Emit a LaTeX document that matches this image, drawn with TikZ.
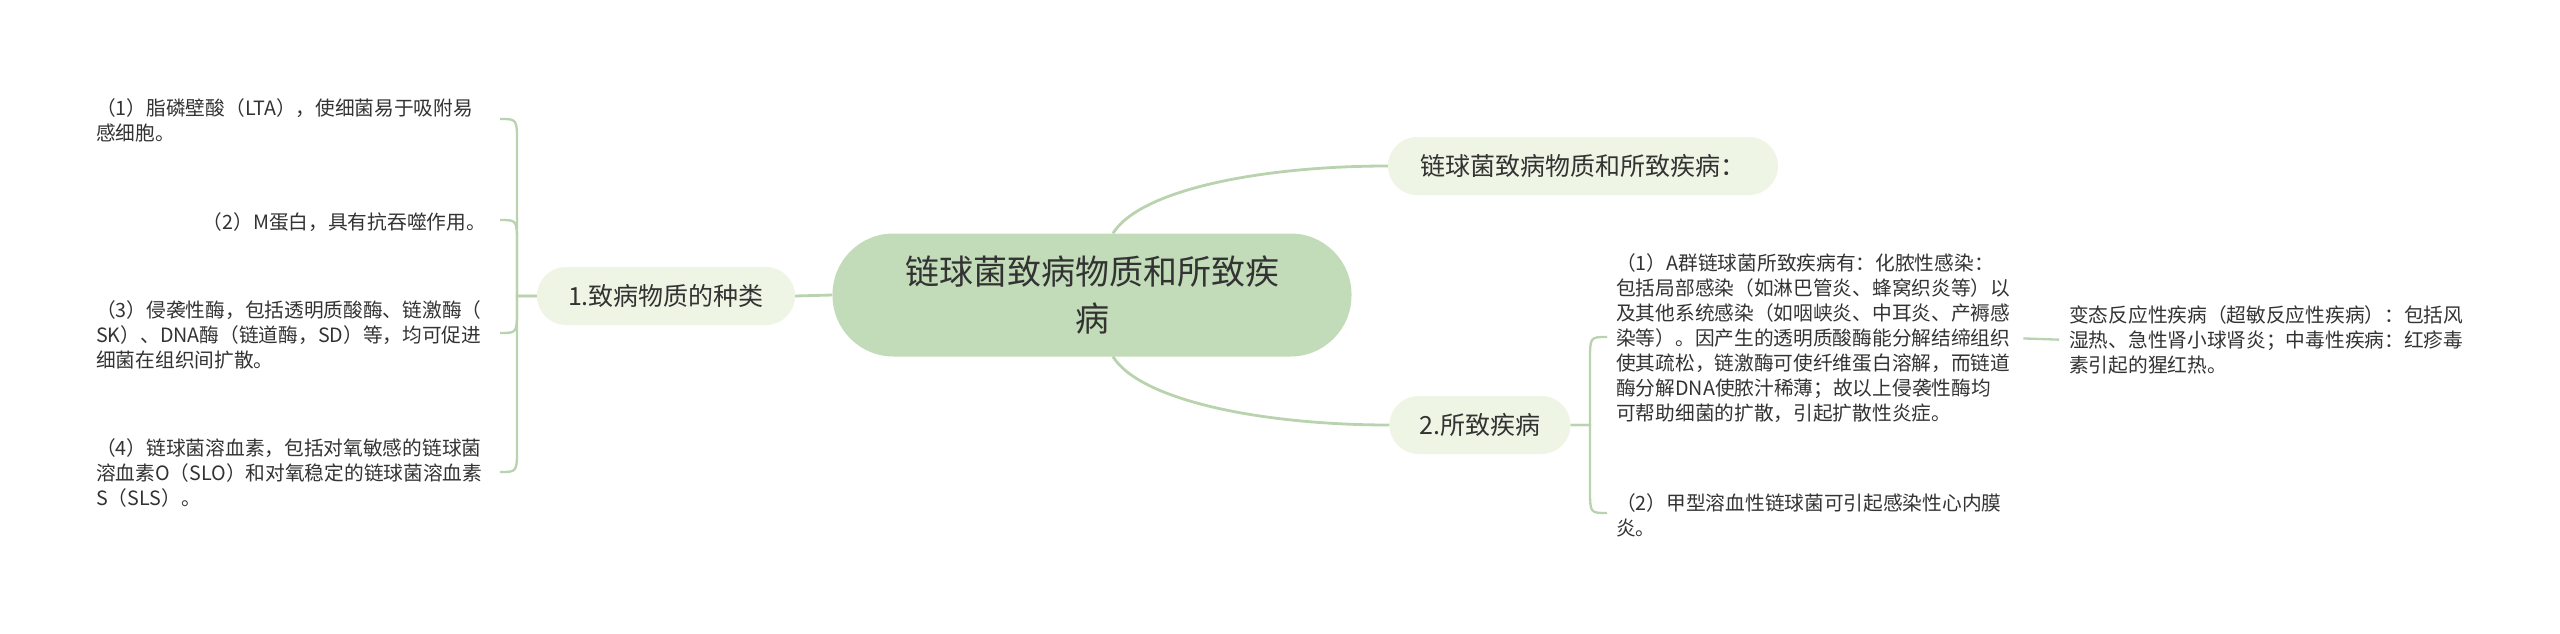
\documentclass[tikz,border=0pt]{standalone}
\usepackage{fontspec}
\setmainfont{Noto Sans CJK SC}
\usetikzlibrary{calc}
\definecolor{rootc}{HTML}{C2DBB8}
\definecolor{subc}{HTML}{EEF5E5}
\definecolor{linec}{HTML}{B9D3AE}
\definecolor{textc}{HTML}{333333}
\begin{document}
\begin{tikzpicture}[x=1pt,y=-1pt,
  rootnode/.style={fill=rootc, rounded corners=61pt, minimum width=519pt, minimum height=123pt, inner sep=0pt, align=center, text=textc, font=\fontsize{34}{47}\selectfont},
  topic/.style={fill=subc, rounded corners=29pt, minimum height=58pt, inner sep=0pt, align=center, text=textc, font=\fontsize{25}{30}\selectfont},
  leaf/.style={inner sep=0pt, align=left, text=textc, font=\fontsize{19.7}{25}\selectfont},
  mainline/.style={draw=linec, line width=2.8pt},
  subline/.style={draw=linec, line width=2.3pt},
]
\fill[white] (0,0) rectangle (2560,634);
\useasboundingbox (0,0) rectangle (2560,634);

% main nodes
\node[rootnode] (root) at (1092,295) {链球菌致病物质和所致疾\\病};
\node[topic, minimum width=390pt] (n0) at (1583,166) {链球菌致病物质和所致疾病：};
\node[topic, minimum width=258pt] (n1) at (666,296) {1.致病物质的种类};
\node[topic, minimum width=181pt] (n2) at (1480,425) {2.所致疾病};

% left leaves
\node[leaf, anchor=west] (L1) at (96,120) {（1）脂磷壁酸（LTA），使细菌易于吸附易\\感细胞。};
\node[leaf, anchor=east] (L2) at (486,222) {（2）M蛋白，具有抗吞噬作用。};
\node[leaf, anchor=west] (L3) at (96,335) {（3）侵袭性酶，包括透明质酸酶、链激酶（\\SK）、DNA酶（链道酶，SD）等，均可促进\\细菌在组织间扩散。};
\node[leaf, anchor=west] (L4) at (96,473) {（4）链球菌溶血素，包括对氧敏感的链球菌\\溶血素O（SLO）和对氧稳定的链球菌溶血素\\S（SLS）。};

% right leaves
\node[leaf, anchor=west] (R1) at (1616,338) {（1）A群链球菌所致疾病有：化脓性感染：\\包括局部感染（如淋巴管炎、蜂窝织炎等）以\\及其他系统感染（如咽峡炎、中耳炎、产褥感\\染等）。因产生的透明质酸酶能分解结缔组织\\使其疏松，链激酶可使纤维蛋白溶解，而链道\\酶分解DNA使脓汁稀薄；故以上侵袭性酶均\\可帮助细菌的扩散，引起扩散性炎症。};
\node[leaf, anchor=west] (R2) at (1616,515) {（2）甲型溶血性链球菌可引起感染性心内膜\\炎。};
\node[leaf, anchor=west] (R3) at (2069,340) {变态反应性疾病（超敏反应性疾病）：包括风\\湿热、急性肾小球肾炎；中毒性疾病：红疹毒\\素引起的猩红热。};

% connector end points
\coordinate (hubL) at (517,296);
\coordinate (eL1) at (500,119);
\coordinate (eL2) at (500,220);
\coordinate (eL3) at (500,333);
\coordinate (eL4) at (500,472);
\coordinate (hubR) at (1590,425);
\coordinate (eR1) at (1607,337);
\coordinate (eR2) at (1607,513);

% root connectors
\draw[mainline] (root.west) -- (n1.east);
\draw[mainline] ($(root.north)+(21,0)$) .. controls (1140,190) and (1260,166) .. (n0.west);
\draw[mainline] ($(root.south)+(21,0)$) .. controls (1140,400) and (1260,425) .. (n2.west);

% left bracket
\draw[subline] (n1.west) -- (hubL) -- (517,143) .. controls (517,119) .. (eL1);
\draw[subline] (n1.west) -- (hubL) -- (517,244) .. controls (517,220) .. (eL2);
\draw[subline] (n1.west) -- (hubL) -- (517,309) .. controls (517,333) .. (eL3);
\draw[subline] (n1.west) -- (hubL) -- (517,448) .. controls (517,472) .. (eL4);

% right bracket
\draw[subline] (n2.east) -- (hubR) -- (1590,361) .. controls (1590,337) .. (eR1);
\draw[subline] (n2.east) -- (hubR) -- (1590,489) .. controls (1590,513) .. (eR2);

% far right
\draw[subline, shorten <=13pt, shorten >=10pt] (R1.east) -- (R3.west);
\end{tikzpicture}
\end{document}
